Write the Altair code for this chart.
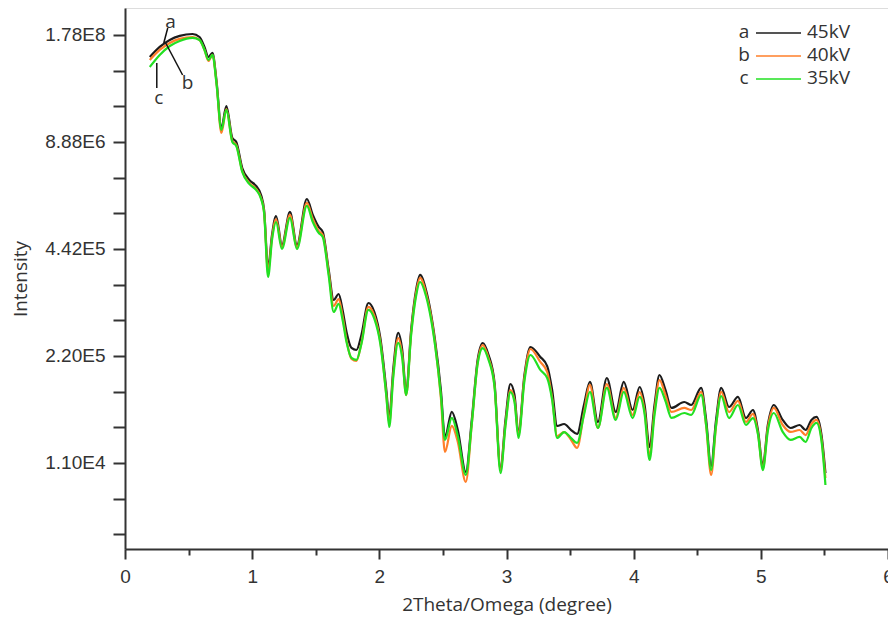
import altair as alt
import pandas as pd

# 2Theta/Omega (degree)
x_deg = [0.195, 0.273, 0.352, 0.430, 0.531, 0.586, 0.625, 0.656, 0.688, 0.719,
         0.758, 0.797, 0.844, 0.875, 0.922, 0.977, 1.031, 1.070, 1.094, 1.125,
         1.156, 1.188, 1.234, 1.297, 1.352, 1.430, 1.477, 1.523, 1.555, 1.602,
         1.641, 1.680, 1.711, 1.742, 1.781, 1.820, 1.859, 1.914, 1.961, 2.008,
         2.055, 2.078, 2.109, 2.148, 2.180, 2.211, 2.250, 2.289, 2.320, 2.367,
         2.438, 2.484, 2.516, 2.570, 2.617, 2.680, 2.727, 2.773, 2.813, 2.859,
         2.906, 2.953, 2.992, 3.031, 3.063, 3.094, 3.141, 3.188, 3.266, 3.320,
         3.359, 3.398, 3.453, 3.508, 3.555, 3.609, 3.656, 3.719, 3.789, 3.859,
         3.922, 3.992, 4.047, 4.086, 4.125, 4.164, 4.203, 4.250, 4.297, 4.398,
         4.453, 4.531, 4.570, 4.609, 4.648, 4.688, 4.750, 4.820, 4.883, 4.938,
         4.977, 5.016, 5.055, 5.102, 5.172, 5.234, 5.305, 5.352, 5.398, 5.438,
         5.477, 5.508]

# intensity read in axis units (1 = 1.10E4, 2 = 2.20E5, 3 = 4.42E5, 4 = 8.88E6, 5 = 1.78E8)
i45 = [4.794, 4.888, 4.953, 4.991, 5.009, 4.981, 4.888, 4.794, 4.832, 4.579,
       4.131, 4.336, 4.037, 4.000, 3.757, 3.645, 3.589, 3.505, 3.364, 2.822,
       3.131, 3.308, 3.037, 3.346, 3.037, 3.467, 3.318, 3.206, 3.159, 2.804,
       2.523, 2.579, 2.430, 2.224, 2.075, 2.056, 2.196, 2.495, 2.411, 2.168,
       1.682, 1.420, 1.869, 2.215, 2.056, 1.663, 2.243, 2.617, 2.757, 2.617,
       2.149, 1.682, 1.243, 1.477, 1.308, 0.916, 1.402, 1.963, 2.121, 2.009,
       1.748, 0.953, 1.402, 1.738, 1.635, 1.280, 1.822, 2.084, 1.991, 1.906,
       1.682, 1.346, 1.364, 1.308, 1.271, 1.542, 1.757, 1.383, 1.794, 1.477,
       1.757, 1.495, 1.710, 1.542, 1.149, 1.542, 1.822, 1.682, 1.514, 1.570,
       1.542, 1.701, 1.402, 0.972, 1.402, 1.701, 1.523, 1.617, 1.420, 1.495,
       1.308, 0.981, 1.355, 1.542, 1.402, 1.327, 1.355, 1.308, 1.402, 1.430,
       1.262, 0.906]

i40 = [4.766, 4.860, 4.925, 4.963, 4.981, 4.953, 4.860, 4.757, 4.813, 4.560,
       4.084, 4.308, 4.009, 3.972, 3.729, 3.617, 3.561, 3.477, 3.345, 2.785,
       3.103, 3.280, 3.018, 3.318, 3.018, 3.430, 3.280, 3.169, 3.131, 2.776,
       2.467, 2.532, 2.374, 2.149, 1.972, 1.953, 2.121, 2.458, 2.374, 2.131,
       1.635, 1.373, 1.822, 2.168, 2.009, 1.635, 2.215, 2.589, 2.729, 2.589,
       2.121, 1.607, 1.103, 1.346, 1.196, 0.823, 1.365, 1.935, 2.102, 1.981,
       1.720, 0.934, 1.365, 1.682, 1.588, 1.262, 1.794, 2.065, 1.944, 1.850,
       1.607, 1.252, 1.289, 1.215, 1.140, 1.467, 1.729, 1.327, 1.738, 1.421,
       1.701, 1.448, 1.663, 1.486, 1.074, 1.486, 1.775, 1.635, 1.477, 1.514,
       1.495, 1.664, 1.346, 0.888, 1.346, 1.664, 1.476, 1.580, 1.383, 1.458,
       1.280, 0.953, 1.327, 1.514, 1.355, 1.290, 1.308, 1.261, 1.365, 1.402,
       1.225, 0.859]

i35 = [4.701, 4.813, 4.897, 4.944, 4.972, 4.953, 4.860, 4.766, 4.813, 4.551,
       4.112, 4.299, 4.000, 3.963, 3.720, 3.608, 3.552, 3.468, 3.336, 2.738,
       3.084, 3.252, 3.000, 3.290, 3.000, 3.402, 3.252, 3.150, 3.112, 2.748,
       2.411, 2.486, 2.337, 2.131, 1.982, 1.963, 2.112, 2.430, 2.346, 2.112,
       1.626, 1.336, 1.794, 2.122, 1.981, 1.635, 2.196, 2.561, 2.692, 2.561,
       2.102, 1.635, 1.215, 1.421, 1.252, 0.888, 1.365, 1.926, 2.074, 1.962,
       1.711, 0.906, 1.346, 1.663, 1.570, 1.234, 1.766, 2.009, 1.870, 1.794,
       1.589, 1.234, 1.289, 1.233, 1.187, 1.449, 1.664, 1.327, 1.701, 1.402,
       1.664, 1.420, 1.617, 1.458, 1.028, 1.449, 1.701, 1.579, 1.421, 1.467,
       1.449, 1.636, 1.355, 0.935, 1.355, 1.626, 1.420, 1.542, 1.355, 1.420,
       1.271, 0.934, 1.299, 1.467, 1.290, 1.215, 1.243, 1.196, 1.327, 1.374,
       1.206, 0.794]

series_names = ["45kV", "40kV", "35kV"]
series_letters = ["a", "b", "c"]
series_colors = ["#1c1c1c", "#ff7f2a", "#22e022"]
series_values = [i45, i40, i35]

y_tick_labels = ["1.10E4", "2.20E5", "4.42E5", "8.88E6", "1.78E8"]
x_ticks = [i * 0.5 for i in range(13)]
y_ticks = [i / 3 for i in range(1, 16)]

# annotation letters with leader lines (data coordinates)
ann_text = pd.DataFrame({"x": [0.359, 0.492, 0.266], "y": [5.121, 4.551, 4.411],
                         "t": ["a", "b", "c"]})
ann_lines = pd.DataFrame({"x": [0.336, 0.320, 0.250], "x2": [0.305, 0.453, 0.250],
                          "y": [5.065, 4.925, 4.738], "y2": [4.925, 4.626, 4.505]})

label_map = "[" + ",".join("'" + s + "'" for s in y_tick_labels) + "]"

xscale = alt.Scale(domain=[0, 6], nice=False, zero=False)
yscale = alt.Scale(domain=[0.196, 5.252], nice=False, zero=False)

xaxis = alt.Axis(
    values=x_ticks, tickCount=40,
    labelExpr="datum.value % 1 === 0 ? format(datum.value, 'd') : ''",
    tickSize={"condition": {"test": "datum.value % 1 === 0", "value": 10}, "value": 6},
    title="2Theta/Omega (degree)",
    labelFont="Liberation Sans", labelFontSize=19, labelColor="#333333",
    labelPadding=8, labelFlush=False, labelOverlap=False,
    titleFont="Open Sans", titleFontSize=19, titleFontWeight="normal", titleColor="#333333",
    titlePadding=9,
    domainColor="#333333", domainWidth=2, tickColor="#333333", tickWidth=2,
    grid=False,
)
yaxis = alt.Axis(
    values=y_ticks, tickCount=40,
    labelExpr="abs(datum.value - round(datum.value)) < 0.01 ? " + label_map + "[round(datum.value) - 1] : ''",
    tickSize=12,
    title="Intensity",
    labelFont="Liberation Sans", labelFontSize=19, labelColor="#333333",
    labelPadding=8, labelOverlap=False,
    titleFont="Open Sans", titleFontSize=19, titleFontWeight="normal", titleColor="#333333",
    titlePadding=14,
    domainColor="#333333", domainWidth=2, tickColor="#333333", tickWidth=2,
    grid=False,
)

layers = []
for name, col, vals in zip(series_names, series_colors, series_values):
    d = pd.DataFrame({"x": x_deg, "y": vals, "series": name})
    layers.append(
        alt.Chart(d).mark_line(interpolate="monotone", strokeWidth=2.2, color=col).encode(
            x=alt.X("x:Q", scale=xscale, axis=xaxis),
            y=alt.Y("y:Q", scale=yscale, axis=yaxis),
        )
    )

layers.append(
    alt.Chart(ann_lines).mark_rule(color="#111111", strokeWidth=1.5).encode(
        x=alt.X("x:Q", scale=xscale), x2="x2:Q",
        y=alt.Y("y:Q", scale=yscale), y2="y2:Q",
    )
)
layers.append(
    alt.Chart(ann_text).mark_text(font="Open Sans", fontSize=19, color="#333333",
                                  align="center", baseline="middle").encode(
        x=alt.X("x:Q", scale=xscale), y=alt.Y("y:Q", scale=yscale), text="t:N",
    )
)

# legend (top right, inside plot)
for i, (name, letter, col) in enumerate(zip(series_names, series_letters, series_colors)):
    ypix = 25 + 23 * i
    base = alt.Chart(pd.DataFrame({"name": [name], "letter": [letter]}))
    layers.append(base.mark_text(font="Open Sans", fontSize=19, color="#333333",
                                 align="center", baseline="middle").encode(
        x=alt.value(619), y=alt.value(ypix - 1), text="letter:N"))
    layers.append(base.mark_rule(color=col, strokeWidth=1.6).encode(
        x=alt.value(631), x2=alt.value(676), y=alt.value(ypix)))
    layers.append(base.mark_text(font="Open Sans", fontSize=19, color="#333333",
                                 align="left", baseline="middle").encode(
        x=alt.value(682), y=alt.value(ypix - 1), text="name:N"))

chart = alt.layer(*layers).properties(
    width=763, height=541,
    autosize=alt.AutoSizeParams(type="none"),
    padding={"left": 117, "top": 0, "right": 0, "bottom": 68},
).configure_view(stroke="#333333", strokeWidth=2).configure(background="white")

chart.save("out.html", embed_options={"renderer": "svg", "actions": False})
